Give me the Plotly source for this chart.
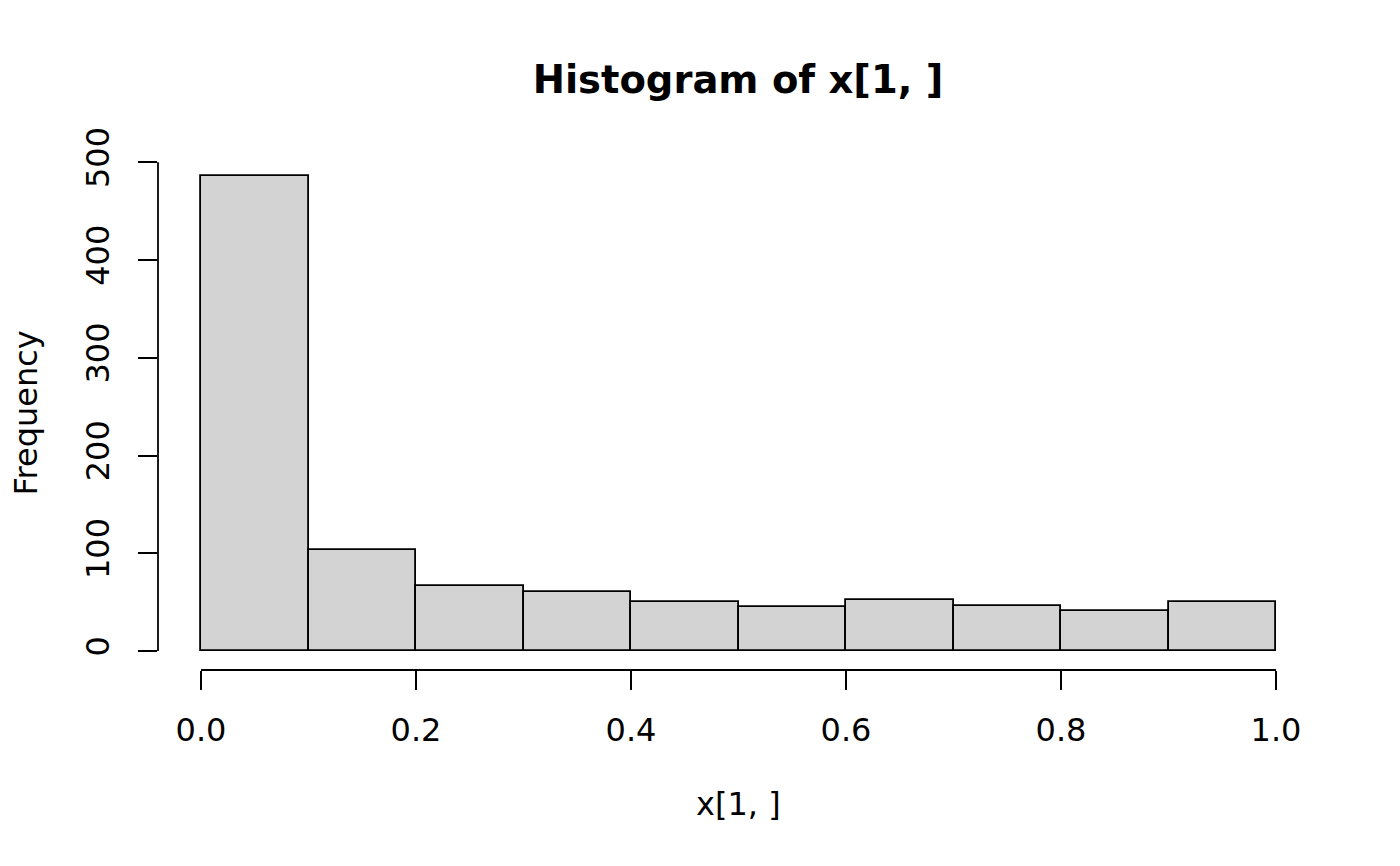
import plotly.graph_objects as go

# histogram of x[1, ] -- breaks and counts
breaks = [0.0, 0.1, 0.2, 0.3, 0.4, 0.5, 0.6, 0.7, 0.8, 0.9, 1.0]
counts = [486, 103, 67, 60, 50, 45, 52, 46, 41, 50]
x_ticks = [0.0, 0.2, 0.4, 0.6, 0.8, 1.0]
y_ticks = [0, 100, 200, 300, 400, 500]

mids = [(a + b) / 2 for a, b in zip(breaks[:-1], breaks[1:])]
widths = [b - a for a, b in zip(breaks[:-1], breaks[1:])]

FONT = "DejaVu Sans"

fig = go.Figure()
fig.add_trace(go.Bar(
    x=mids, y=counts, width=widths,
    marker=dict(color="#D3D3D3", line=dict(color="black", width=1.8)),
    hoverinfo="x+y",
))

# R style axes: lines only from first to last tick
fig.add_shape(type="line", xref="x", yref="paper",
              x0=x_ticks[0], x1=x_ticks[-1], y0=0, y1=0,
              line=dict(color="black", width=1.8))
fig.add_shape(type="line", xref="paper", yref="y",
              x0=0, x1=0, y0=y_ticks[0], y1=y_ticks[-1],
              line=dict(color="black", width=1.8))

# page body has an 8px margin, so the plot box is shifted up/left by that
fig.update_layout(
    width=1400, height=866,
    margin=dict(l=150, r=89, t=149, b=204),
    paper_bgcolor="white", plot_bgcolor="white",
    showlegend=False, bargap=0,
    font=dict(family=FONT, size=32, color="black"),
    title=dict(text="<b>Histogram of x[1, ]</b>", x=(738 - 8) / 1400, xanchor="center",
               y=1 - 72 / 866, yanchor="middle", yref="container",
               font=dict(family=FONT, size=38.5, color="black")),
)

fig.update_xaxes(
    range=[-0.04, 1.04], tickvals=x_ticks, tickformat=".1f",
    ticks="outside", ticklen=19, tickwidth=1.8, tickcolor="black",
    showline=False, showgrid=False, zeroline=False,
    ticklabelstandoff=13,
)
fig.update_yaxes(
    range=[-19.44, 505.44], tickvals=y_ticks, tickangle=-90,
    ticks="outside", ticklen=19, tickwidth=1.8, tickcolor="black",
    showline=False, showgrid=False, zeroline=False,
    ticklabelstandoff=16,
)

fig.add_annotation(text="x[1, ]", xref="paper", yref="paper",
                   x=0.5, y=(670 - 804) / 513, xanchor="center", yanchor="middle",
                   showarrow=False, font=dict(family=FONT, size=32))
fig.add_annotation(text="Frequency", xref="paper", yref="paper",
                   x=(25 - 158) / 1161, y=0.5, xanchor="center", yanchor="middle",
                   textangle=-90, showarrow=False, font=dict(family=FONT, size=32))

fig.write_html("out.html")
